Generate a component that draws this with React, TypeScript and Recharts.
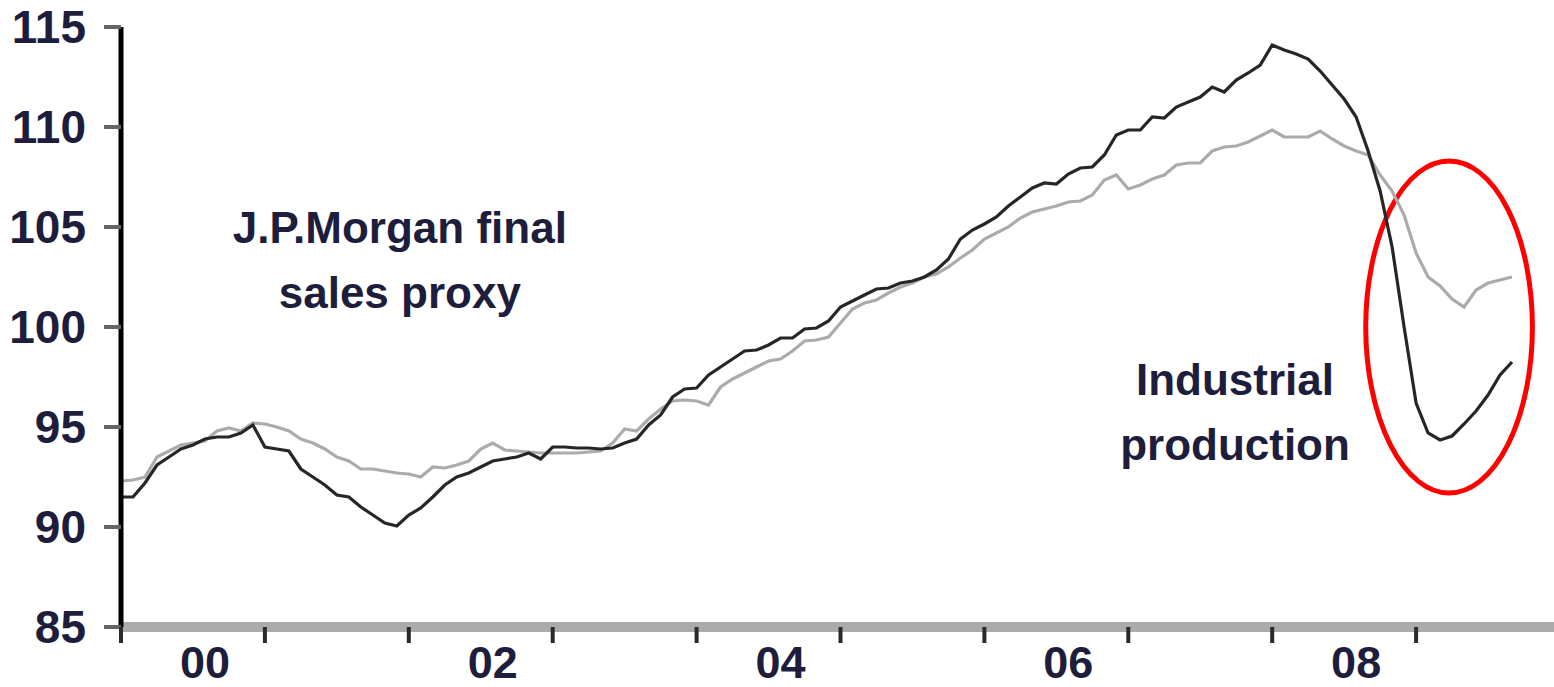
import React from "react";
import { Line, LineChart, ReferenceArea, ReferenceDot, XAxis, YAxis } from "recharts";

const FONT = '"Liberation Sans", Arial, sans-serif';
const TEXT = "#1e1e3c";

const YEAR_LABELS = ["00", "02", "04", "06", "08"];
const Y_TICKS = [85, 90, 95, 100, 105, 110, 115];

// monthly, Jan 2000 .. Sep 2009
const industrialProduction = [
  91.5, 91.5, 92.2, 93.1, 93.5, 93.9, 94.1, 94.4, 94.5, 94.5, 94.7, 95.1,
  94.0, 93.9, 93.8, 92.9, 92.5, 92.1, 91.6, 91.5, 91.0, 90.6, 90.2, 90.05,
  90.6, 90.95, 91.5, 92.1, 92.5, 92.7, 93.0, 93.3, 93.4, 93.5, 93.7, 93.4,
  94.0, 94.0, 93.95, 93.95, 93.9, 93.95, 94.2, 94.4, 95.1, 95.6, 96.5, 96.9,
  96.95, 97.6, 98.0, 98.4, 98.8, 98.85, 99.1, 99.45, 99.45, 99.9, 99.95, 100.3,
  101.0, 101.3, 101.6, 101.9, 101.95, 102.2, 102.3, 102.5, 102.85, 103.4, 104.4, 104.85,
  105.15, 105.5, 106.05, 106.5, 106.95, 107.2, 107.15, 107.65, 107.95, 108.0, 108.6, 109.6,
  109.85, 109.85, 110.5, 110.45, 111.0, 111.25, 111.5, 112.0, 111.75, 112.35, 112.7, 113.1,
  114.1, 113.85, 113.65, 113.4, 112.8, 112.1, 111.4, 110.5, 108.8, 106.8, 104.0, 100.0,
  96.2, 94.7, 94.35, 94.55, 95.15, 95.8, 96.6, 97.6, 98.25,
];

const finalSalesProxy = [
  92.3, 92.35, 92.5, 93.5, 93.8, 94.1, 94.2, 94.3, 94.8, 94.95, 94.8, 95.2,
  95.15, 95.0, 94.8, 94.4, 94.2, 93.9, 93.5, 93.3, 92.9, 92.9, 92.8, 92.7,
  92.65, 92.5, 93.0, 92.95, 93.1, 93.3, 93.9, 94.2, 93.85, 93.8, 93.75, 93.7,
  93.7, 93.7, 93.7, 93.75, 93.8, 94.2, 94.9, 94.8, 95.4, 95.9, 96.3, 96.35,
  96.3, 96.1, 97.0, 97.4, 97.7, 98.0, 98.3, 98.4, 98.8, 99.3, 99.35, 99.5,
  100.2, 100.9, 101.2, 101.35, 101.7, 102.0, 102.2, 102.5, 102.65, 103.0, 103.45, 103.85,
  104.4, 104.7, 105.0, 105.45, 105.75, 105.9, 106.05, 106.25, 106.3, 106.6, 107.35, 107.6,
  106.9, 107.1, 107.4, 107.6, 108.1, 108.2, 108.2, 108.8, 109.0, 109.05, 109.25, 109.55,
  109.85, 109.5, 109.5, 109.5, 109.8, 109.4, 109.05, 108.8, 108.6, 107.6, 106.8, 105.6,
  103.7, 102.5, 102.05, 101.4, 101.0, 101.85, 102.2, 102.35, 102.5,
];

const data = industrialProduction.map((ip, i) => ({ month: i, ip, sales: finalSalesProxy[i] }));

// year boundaries get a tick mark, every other mid-year gets a label
const yearStarts = YEAR_LABELS.flatMap((_, i) => [i * 24, i * 24 + 12]);
const labelAt = YEAR_LABELS.map((_, i) => i * 24 + 6);
const xTicks = [...yearStarts, ...labelAt].sort((a, b) => a - b);

function YearTick(props: any) {
  const { x, y, payload } = props;
  const v = payload.value;
  if (v % 12 === 0) {
    return <line x1={x} x2={x} y1={y} y2={y + 16} stroke="#2a2a2a" strokeWidth={4} />;
  }
  return (
    <text x={x + 12} y={y + 51} textAnchor="middle" fontSize={45} fontWeight="bold" fontFamily={FONT} fill={TEXT}>
      {YEAR_LABELS[(v - 6) / 24]}
    </text>
  );
}

function Note({ cx, cy, lines }: any) {
  return (
    <text x={cx} y={cy} textAnchor="middle" fontSize={44} fontWeight="bold" fontFamily={FONT} fill={TEXT}>
      {lines.map((t: string, i: number) => (
        <tspan key={t} x={cx} dy={i === 0 ? 0 : 65}>
          {t}
        </tspan>
      ))}
    </text>
  );
}

export default function App() {
  return (
    <div style={{ position: "absolute", left: 0, top: 0, background: "#fff" }}>
      <LineChart width={1554} height={687} data={data} margin={{ top: 27, right: 0, left: 0, bottom: 0 }}>
        <XAxis
          dataKey="month"
          type="number"
          domain={[0, 119.5]}
          allowDataOverflow
          ticks={xTicks}
          interval={0}
          tick={<YearTick />}
          tickLine={false}
          tickSize={0}
          tickMargin={0}
          axisLine={{ stroke: "#ababab", strokeWidth: 10 }}
          height={60}
        />
        <YAxis
          type="number"
          domain={[85, 115]}
          ticks={Y_TICKS}
          interval={0}
          width={121}
          tickSize={17}
          tickMargin={18}
          tickLine={{ stroke: "#666", strokeWidth: 4 }}
          axisLine={{ stroke: "#000", strokeWidth: 5 }}
          tick={{ fontSize: 46, fontWeight: "bold", fontFamily: FONT, fill: TEXT }}
        />
        <Line type="linear" dataKey="sales" stroke="#ababab" strokeWidth={3.2} dot={false} isAnimationActive={false} />
        <Line type="linear" dataKey="ip" stroke="#262626" strokeWidth={3.2} dot={false} isAnimationActive={false} />
        <ReferenceDot
          x={23.25}
          y={104.2}
          r={0}
          ifOverflow="visible"
          shape={(p: any) => <Note {...p} lines={["J.P.Morgan final", "sales proxy"]} />}
        />
        <ReferenceDot
          x={92.9}
          y={96.6}
          r={0}
          ifOverflow="visible"
          shape={(p: any) => <Note {...p} lines={["Industrial", "production"]} />}
        />
        <ReferenceArea
          x1={103.8}
          x2={117.7}
          y1={91.7}
          y2={108.3}
          ifOverflow="visible"
          shape={(p: any) => (
            <ellipse
              cx={p.x + p.width / 2}
              cy={p.y + p.height / 2}
              rx={p.width / 2}
              ry={p.height / 2}
              fill="none"
              stroke="#ff0000"
              strokeWidth={5}
            />
          )}
        />
      </LineChart>
    </div>
  );
}
